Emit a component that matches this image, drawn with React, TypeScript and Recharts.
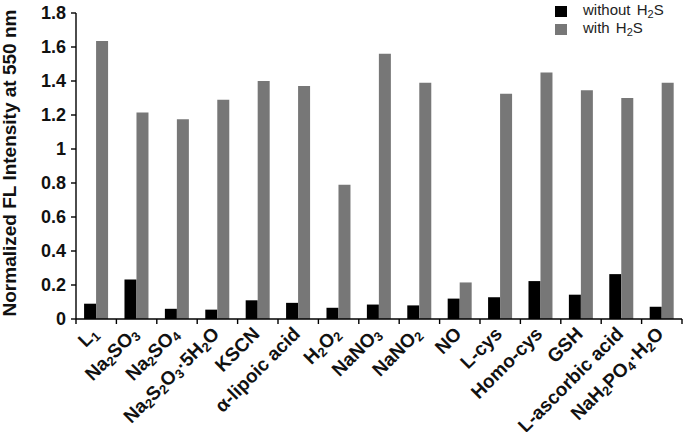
import React from "react";
import { BarChart, Bar, XAxis, YAxis } from "recharts";

const categories = [
  "L1",
  "Na2SO3",
  "Na2SO4",
  "Na2S2O3·5H2O",
  "KSCN",
  "α-lipoic acid",
  "H2O2",
  "NaNO3",
  "NaNO2",
  "NO",
  "L-cys",
  "Homo-cys",
  "GSH",
  "L-ascorbic acid",
  "NaH2PO4·H2O",
];

const withoutH2S = [0.09, 0.233, 0.06, 0.055, 0.11, 0.095, 0.066, 0.085, 0.08, 0.12, 0.128, 0.223, 0.143, 0.264, 0.072];
const withH2S = [1.635, 1.215, 1.175, 1.29, 1.4, 1.37, 0.79, 1.56, 1.39, 0.215, 1.325, 1.45, 1.345, 1.3, 1.39];

const yTicks = [0, 0.2, 0.4, 0.6, 0.8, 1, 1.2, 1.4, 1.6, 1.8];

const series = [
  { key: "without", label: "without H2S", color: "#000000" },
  { key: "with", label: "with H2S", color: "#777777" },
];

const data = categories.map((name, i) => ({
  name,
  without: withoutH2S[i],
  with: withH2S[i],
}));

const FONT = "'Liberation Sans', Arial, sans-serif";

// digits right after a letter are subscripts (H2O, Na2SO3, L1), a coefficient like ·5 is not
function splitChem(s: string) {
  const parts: { t: string; sub: boolean }[] = [];
  for (let i = 0; i < s.length; i++) {
    const ch = s[i];
    const prev = parts[parts.length - 1];
    const isDigit = /[0-9]/.test(ch);
    const sub = isDigit && i > 0 && (/[A-Za-z]/.test(s[i - 1]) || (prev && prev.sub));
    if (prev && prev.sub === sub) prev.t += ch;
    else parts.push({ t: ch, sub: !!sub });
  }
  return parts;
}

function ChemTspans({ text, shift, subSize }: { text: string; shift: number; subSize: number }) {
  const parts = splitChem(text);
  let low = false;
  return (
    <>
      {parts.map((p, i) => {
        let dy = 0;
        if (p.sub && !low) dy = shift;
        if (!p.sub && low) dy = -shift;
        low = p.sub;
        return (
          <tspan key={i} dy={dy} fontSize={p.sub ? subSize : undefined}>
            {p.t}
          </tspan>
        );
      })}
    </>
  );
}

// label plus the tick marks at the band edges (the original puts ticks between categories)
function CategoryTick(props: any) {
  const { x, y, payload, index, width, visibleTicksCount } = props;
  const band = width / visibleTicksCount;
  const ax = x + 3;
  const ay = y + 16;
  const last = index === visibleTicksCount - 1;
  return (
    <g>
      <line x1={x - band / 2} x2={x - band / 2} y1={y} y2={y + 5} stroke="#000" strokeWidth={1.4} />
      {last && <line x1={x + band / 2} x2={x + band / 2} y1={y} y2={y + 5} stroke="#000" strokeWidth={1.4} />}
      <text
        x={ax}
        y={ay}
        textAnchor="end"
        transform={`rotate(-45, ${ax}, ${ay})`}
        fontFamily={FONT}
        fontWeight="bold"
        fontSize={19}
        fill="#111"
      >
        <ChemTspans text={payload.value} shift={3} subSize={13} />
      </text>
    </g>
  );
}

function YTitle() {
  return (
    <text
      x={16}
      y={163}
      textAnchor="middle"
      transform="rotate(-90, 16, 163)"
      fontFamily={FONT}
      fontWeight="bold"
      fontSize={19}
      fill="#111"
    >
      Normalized FL Intensity at 550 nm
    </text>
  );
}

export default function App() {
  return (
    <div style={{ position: "absolute", left: 0, top: 0, width: 685, height: 432, background: "#fff" }}>
      <BarChart
        width={685}
        height={432}
        data={data}
        margin={{ top: 13, right: 3, left: 0, bottom: 0 }}
        barCategoryGap="20%"
        barGap={0}
      >
        <XAxis
          dataKey="name"
          interval={0}
          height={113}
          axisLine={{ stroke: "#000", strokeWidth: 1.4 }}
          tickLine={false}
          tickSize={0}
          tickMargin={0}
          tick={<CategoryTick />}
        />
        <YAxis
          width={76}
          domain={[0, 1.8]}
          ticks={yTicks}
          interval={0}
          tickSize={5}
          tickMargin={5}
          axisLine={{ stroke: "#000", strokeWidth: 1.4 }}
          tickLine={{ stroke: "#000", strokeWidth: 1.4 }}
          tickFormatter={(v: number) => String(+v.toFixed(1))}
          tick={{ fontFamily: FONT, fontWeight: "bold", fontSize: 18, fill: "#111" }}
          label={<YTitle />}
        />
        {series.map((s) => (
          <Bar key={s.key} dataKey={s.key} name={s.label} fill={s.color} isAnimationActive={false} />
        ))}
      </BarChart>
      <div style={{ position: "absolute", left: 555, top: 2, fontFamily: FONT, fontSize: 15, color: "#222" }}>
        {series.map((s) => (
          <div key={s.key} style={{ display: "flex", alignItems: "center", height: 18 }}>
            <span style={{ display: "inline-block", width: 12, height: 11, background: s.color, marginRight: 16 }} />
            <svg width={90} height={18} style={{ overflow: "visible" }}>
              <text x={0} y={13} fontFamily={FONT} fontSize={15} fill="#222" wordSpacing={2}>
                <ChemTspans text={s.label} shift={3} subSize={11} />
              </text>
            </svg>
          </div>
        ))}
      </div>
    </div>
  );
}
